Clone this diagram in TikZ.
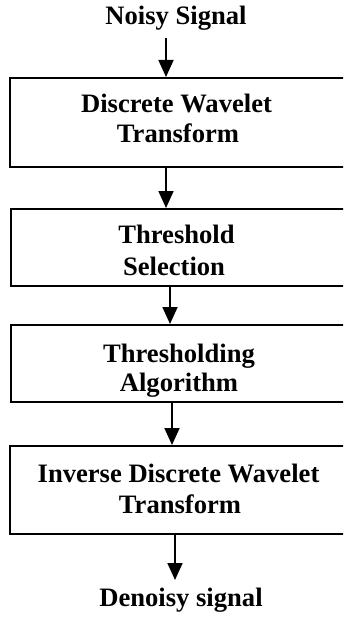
\documentclass[tikz,border=0pt]{standalone}
\usepackage{fontspec}
\setmainfont{Liberation Serif}
\usetikzlibrary{arrows.meta}
\begin{document}
\begin{tikzpicture}[x=1pt,y=-1pt,
  box/.style={draw=black, line width=1.8pt, anchor=north west, inner sep=0pt, fill=white},
  txt/.style={font=\fontsize{26.6}{30}\selectfont\bfseries, inner sep=0pt, anchor=base},
  arr/.style={line width=1.8pt, -{Triangle[width=15pt,length=17pt]}}]
\useasboundingbox (0,0) rectangle (343,623);
\clip (0,0) rectangle (343,623);
% boxes
\node[box, minimum width=337pt, minimum height=89pt] (b1) at (9,77) {};
\node[box, minimum width=336pt, minimum height=77pt] (b2) at (10,208) {};
\node[box, minimum width=336pt, minimum height=77pt] (b3) at (10,324) {};
\node[box, minimum width=337pt, minimum height=88pt] (b4) at (9,445) {};
% texts
\node[txt] (n0) at (176,25) {Noisy Signal};
\node[txt] (t1a) at (176.5,113) {Discrete Wavelet};
\node[txt] (t1b) at (178,142) {Transform};
\node[txt] (t2a) at (176.5,243.5) {Threshold};
\node[txt] (t2b) at (174,275) {Selection};
\node[txt] (t3a) at (179,362.5) {Thresholding};
\node[txt] (t3b) at (179,391.5) {Algorithm};
\node[txt] (t4a) at (178.5,482) {Inverse Discrete Wavelet};
\node[txt] (t4b) at (180,513) {Transform};
\node[txt] (n5) at (181,606.5) {Denoisy signal};
% arrow x positions
\coordinate (x1) at (166,0);
\coordinate (x2) at (166,0);
\coordinate (x3) at (170,0);
\coordinate (x4) at (172,0);
\coordinate (x5) at (175,0);
\coordinate (s0) at (176,38);
\coordinate (e5) at (175,580);
% connectors
\draw[arr] (s0 -| x1) -- (b1.north -| x1);
\draw[arr] (b1.south -| x2) -- (b2.north -| x2);
\draw[arr] (b2.south -| x3) -- (b3.north -| x3);
\draw[arr] (b3.south -| x4) -- (b4.north -| x4);
\draw[arr] (b4.south -| x5) -- (e5);
\end{tikzpicture}
\end{document}
